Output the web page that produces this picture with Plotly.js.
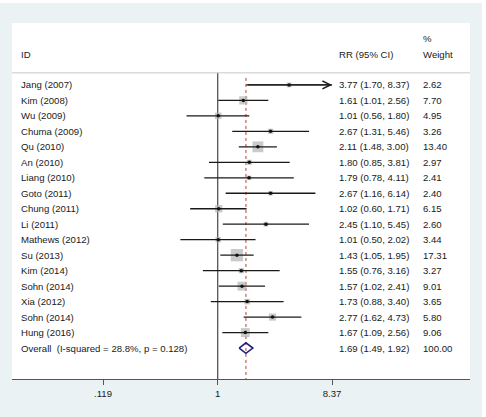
<!DOCTYPE html>
<html>
<head>
<meta charset="utf-8">
<script src="https://cdn.plot.ly/plotly-3.0.1.min.js"></script>
<style>
html,body{margin:0;padding:0;background:#ffffff;}
#chart{position:absolute;left:0;top:3px;width:482px;height:414px;}
</style>
</head>
<body>
<div id="chart"></div>
<script>
// ---- data ----
const studies = ["Jang (2007)", "Kim (2008)", "Wu (2009)", "Chuma (2009)", "Qu (2010)", "An (2010)",
  "Liang (2010)", "Goto (2011)", "Chung (2011)", "Li (2011)", "Mathews (2012)", "Su (2013)",
  "Kim (2014)", "Sohn (2014)", "Xia (2012)", "Sohn (2014)", "Hung (2016)"];
const rr = [3.77, 1.61, 1.01, 2.67, 2.11, 1.80, 1.79, 2.67, 1.02, 2.45, 1.01, 1.43, 1.55, 1.57, 1.73, 2.77, 1.67];
const ciLow = [1.70, 1.01, 0.56, 1.31, 1.48, 0.85, 0.78, 1.16, 0.60, 1.10, 0.50, 1.05, 0.76, 1.02, 0.88, 1.62, 1.09];
const ciHigh = [8.37, 2.56, 1.80, 5.46, 3.00, 3.81, 4.11, 6.14, 1.71, 5.45, 2.02, 1.95, 3.16, 2.41, 3.40, 4.73, 2.56];
const weights = [2.62, 7.70, 4.95, 3.26, 13.40, 2.97, 2.41, 2.40, 6.15, 2.60, 3.44, 17.31, 3.27, 9.01, 3.65, 5.80, 9.06];
const overallLabel = "Overall  (I-squared = 28.8%, p = 0.128)";
const overallRR = 1.69, overallLow = 1.49, overallHigh = 1.92, overallWeight = 100.00;
const tickVals = [0.119, 1, 8.37];
const tickText = [".119", "1", "8.37"];

// ---- build ----
const n = studies.length;
const rows = studies.map((_, i) => i);
const overallRow = n;
const fmt = v => v.toFixed(2);
const FONT = "Liberation Sans, Arial, sans-serif";
const FS = 9.6;
const txtColor = "#1a1a1a";
const axMax = Math.max(...tickVals);

const ciX = [], ciY = [];
for (let i = 0; i < n; i++) { ciX.push(ciLow[i], ciHigh[i], null); ciY.push(i, i, null); }

const traces = [];
// null line at 1
traces.push({x: [1, 1], y: [-0.78, 19], mode: "lines", line: {color: "#555555", width: 1.3}, hoverinfo: "skip"});
// overall dashed line
traces.push({x: [overallRR, overallRR], y: [-0.45, 19], mode: "lines", line: {color: "#b5403f", width: 1, dash: "3px,3px"}, hoverinfo: "skip"});
// weight squares
traces.push({x: rr, y: rows, mode: "markers", marker: {symbol: "square", color: "#b4b4b4",
  size: weights.map(w => 2.96 * Math.sqrt(w)), line: {width: 0}}, hoverinfo: "skip"});
// CI lines
traces.push({x: ciX, y: ciY, mode: "lines", line: {color: "#1a1a1a", width: 1.3}, hoverinfo: "skip"});
// point estimates
traces.push({x: rr, y: rows, mode: "markers", marker: {symbol: "circle", color: "#111111", size: 3.5}, hoverinfo: "skip"});
// overall diamond
const dh = 0.34;
traces.push({x: [overallLow, overallRR, overallHigh, overallRR, overallLow],
  y: [overallRow, overallRow - dh, overallRow, overallRow + dh, overallRow],
  mode: "lines", line: {color: "#1b2283", width: 1.6}, hoverinfo: "skip"});

const ann = [];
const colID = (19 - 12) / 458, colRR = (337 - 12) / 458, colW = (421 - 12) / 458;
function txt(x, y, t) {
  ann.push({xref: "paper", yref: "y", x: x, y: y, text: t, showarrow: false, xanchor: "left", yanchor: "middle",
    font: {family: FONT, size: FS, color: txtColor}});
}
for (let i = 0; i < n; i++) {
  txt(colID, i, studies[i]);
  txt(colRR, i, fmt(rr[i]) + " (" + fmt(ciLow[i]) + ", " + fmt(ciHigh[i]) + ")");
  txt(colW, i, fmt(weights[i]));
}
txt(colID, overallRow, overallLabel);
txt(colRR, overallRow, fmt(overallRR) + " (" + fmt(overallLow) + ", " + fmt(overallHigh) + ")");
txt(colW, overallRow, fmt(overallWeight));
txt(colID, -1.95, "ID");
txt(colRR, -1.95, "RR (95% CI)");
txt(colW, -1.95, "Weight");
txt(colW, -3.0, "%");

// arrows for CIs reaching the axis limit
for (let i = 0; i < n; i++) {
  if (ciHigh[i] >= axMax) {
    ann.push({xref: "x", yref: "y", axref: "x", ayref: "y", x: Math.log10(ciHigh[i]), y: i,
      ax: Math.log10(ciLow[i]), ay: i, text: "", showarrow: true, arrowhead: 5, arrowsize: 1.2,
      arrowwidth: 1.3, arrowcolor: "#1a1a1a", standoff: 0, startstandoff: 0});
  }
}

const layout = {
  width: 482, height: 414,
  margin: {l: 12, r: 12, t: 20, b: 38},
  paper_bgcolor: "rgb(234,242,243)",
  plot_bgcolor: "#ffffff",
  showlegend: false,
  xaxis: {type: "log", range: [-1.659, 2.035], tickvals: tickVals, ticktext: tickText,
    ticks: "outside", ticklen: 5, tickwidth: 1, tickcolor: "#555555",
    showline: true, linecolor: "#555555", linewidth: 1.3, showgrid: false, zeroline: false,
    tickfont: {family: FONT, size: FS, color: txtColor}, fixedrange: true},
  yaxis: {range: [19, -4], visible: false, showgrid: false, zeroline: false, fixedrange: true},
  shapes: [{type: "line", xref: "paper", yref: "y", x0: 0, x1: 1, y0: -0.78, y1: -0.78,
    line: {color: "#c8c8c8", width: 1}}],
  annotations: ann
};
Plotly.newPlot("chart", traces, layout, {displayModeBar: false, staticPlot: true});
</script>
</body>
</html>
